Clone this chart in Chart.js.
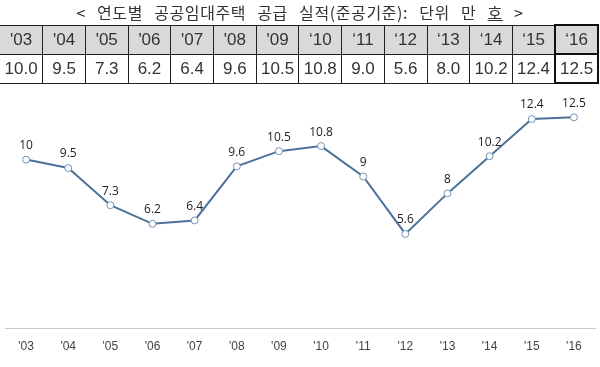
<!DOCTYPE html>
<html><head><meta charset="utf-8">
<script src="https://cdn.jsdelivr.net/npm/chart.js@4.4.1/dist/chart.umd.min.js"></script>
<style>
html,body{margin:0;padding:0;background:#fff;width:600px;height:367px;overflow:hidden;position:relative;}
#title{position:absolute;left:0;top:1px;width:600px;text-align:center;font-family:"Noto Sans CJK KR",sans-serif;font-size:16px;color:#333;line-height:22px;word-spacing:7px;letter-spacing:0.6px;}
#tbl{position:absolute;left:0;top:24px;width:599px;border-collapse:collapse;table-layout:fixed;font-family:"Liberation Sans Narrow","Liberation Sans",sans-serif;font-size:17px;color:#333;}
#tbl td{border:1px solid #222;text-align:center;padding:0;height:27px;}
#tbl tr:first-child td{background:#d9d9d9;}
#tbl td:first-child{border-left:none;}
#tbl td.last{border:2px solid #111;}
#c{position:absolute;left:0;top:0;}
</style></head>
<body>
<canvas id="c" width="600" height="367"></canvas>
<div id="title">&lt; 연도별 공공임대주택 공급 실적(준공기준): 단위 만 <u>호</u> &gt;</div>
<table id="tbl"><tr id="hdr"></tr><tr id="vals"></tr></table>
<script>
const years = ["'03","'04","'05","'06","'07","'08","'09","'10","'11","'12","'13","'14","'15","'16"];
const headerLabels = ["'03","'04","'05","'06","'07","'08","'09","\u201810","\u201811","\u201812","\u201813","\u201814","\u201815","\u201816"];
const values = [10, 9.5, 7.3, 6.2, 6.4, 9.6, 10.5, 10.8, 9, 5.6, 8, 10.2, 12.4, 12.5];
const tableValues = ["10.0","9.5","7.3","6.2","6.4","9.6","10.5","10.8","9.0","5.6","8.0","10.2","12.4","12.5"];

const hdr = document.getElementById('hdr'), vr = document.getElementById('vals');
headerLabels.forEach((h,i)=>{const td=document.createElement('td');td.textContent=h;if(i===headerLabels.length-1)td.className='last';hdr.appendChild(td);});
tableValues.forEach((v,i)=>{const td=document.createElement('td');td.textContent=v;if(i===tableValues.length-1)td.className='last';vr.appendChild(td);});

const labelPlugin = {
  id:'vlabels',
  afterDatasetsDraw(chart){
    const ctx=chart.ctx; const meta=chart.getDatasetMeta(0);
    ctx.save();
    ctx.font='12px "Open Sans", sans-serif';
    ctx.fillStyle='#222'; ctx.textAlign='center'; ctx.textBaseline='middle';
    meta.data.forEach((pt,i)=>{ ctx.fillText(String(values[i]), pt.x, pt.y-14); });
    ctx.restore();
  }
};

new Chart(document.getElementById('c'),{
  type:'line',
  data:{labels:years,datasets:[{data:values,borderColor:'#4d7299',borderWidth:2,tension:0,
    pointRadius:3.5,pointBackgroundColor:'#fff',pointBorderColor:'#7393b5',pointBorderWidth:1}]},
  options:{
    responsive:false,animation:false,
    layout:{padding:{top:92,left:0,right:0,bottom:2}},
    plugins:{legend:{display:false},tooltip:{enabled:false}},
    scales:{
      x:{offset:true,grid:{display:false,drawTicks:false},border:{display:true,color:'#c8c8c8',width:1},
         ticks:{padding:11,color:'#444',font:{family:'"Liberation Sans Narrow","Liberation Sans",sans-serif',size:12}}},
      y:{display:false,min:0,max:14}
    }
  },
  plugins:[labelPlugin]
});
</script>
</body></html>
